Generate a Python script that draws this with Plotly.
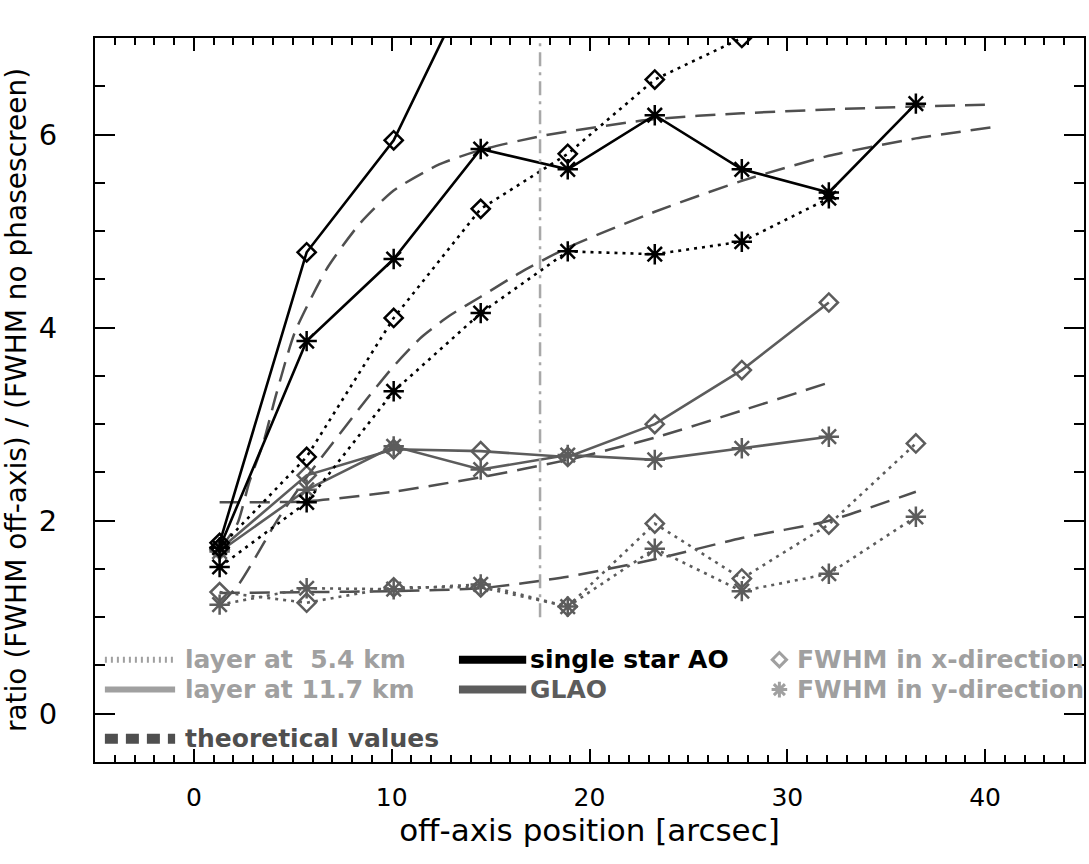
import plotly.graph_objects as go

# ---------------- data ----------------
pos = [1.3, 5.7, 10.1, 14.5, 18.9, 23.3, 27.7, 32.1, 36.5]

# single star AO, layer at 11.7 km (solid black)
ssao_117_x = [1.77, 4.78, 5.94, 7.8]
ssao_117_y = [1.72, 3.86, 4.71, 5.85, 5.64, 6.20, 5.64, 5.40, 6.32]
# single star AO, layer at 5.4 km (dotted black)
ssao_54_x = [1.72, 2.66, 4.10, 5.23, 5.80, 6.57, 7.00]
ssao_54_y = [1.52, 2.19, 3.34, 4.15, 4.79, 4.76, 4.89, 5.34]
# GLAO, layer at 11.7 km (solid gray)
glao_117_x = [1.70, 2.47, 2.74, 2.72, 2.66, 3.00, 3.56, 4.26]
glao_117_y = [1.68, 2.32, 2.77, 2.53, 2.68, 2.63, 2.75, 2.87]
# GLAO, layer at 5.4 km (dotted gray)
glao_54_x = [1.26, 1.15, 1.31, 1.31, 1.11, 1.97, 1.40, 1.96, 2.80]
glao_54_y = [1.13, 1.30, 1.29, 1.34, 1.11, 1.71, 1.27, 1.45, 2.04]

# theoretical values (dashed)
th_ssao_a_pos = [1.3, 2.2, 2.8, 3.5, 4.15, 5.1, 6.75, 8.4, 10.1, 12.4, 14.5, 17.7, 23.3, 27.7, 32.1, 36.5, 40.5]
th_ssao_a_val = [1.70, 1.97, 2.40, 2.80, 3.30, 3.95, 4.62, 5.08, 5.42, 5.69, 5.84, 5.99, 6.16, 6.22, 6.26, 6.29, 6.31]
th_ssao_b_pos = [1.3, 2.3, 3.2, 4.2, 5.7, 7.0, 8.7, 10.1, 11.5, 12.9, 14.5, 16.5, 18.9, 23.3, 27.7, 32.1, 36.5, 40.5]
th_ssao_b_val = [1.12, 1.35, 1.65, 2.00, 2.45, 2.80, 3.25, 3.60, 3.90, 4.12, 4.32, 4.57, 4.83, 5.20, 5.52, 5.78, 5.96, 6.08]
th_glao_117_pos = [1.3, 5.7, 10.1, 14.5, 18.9, 23.3, 27.7, 32.1]
th_glao_117_val = [2.19, 2.20, 2.30, 2.45, 2.63, 2.86, 3.14, 3.43]
th_glao_54_pos = [1.3, 5.7, 10.1, 14.5, 18.9, 23.3, 27.7, 32.1, 36.5]
th_glao_54_val = [1.25, 1.26, 1.27, 1.30, 1.42, 1.60, 1.82, 2.00, 2.30]

vline_pos = 17.5
vline_range = [1.0, 7.0]

x_ticks = [0, 10, 20, 30, 40]
y_ticks = [0, 2, 4, 6]

# ---------------- styles ----------------
BLACK = "#000000"
GRAY = "#5c5c5c"
THEO = "#4f4f4f"
LIGHT = "#a0a0a0"
FONT = "DejaVu Sans"

fig = go.Figure()

def theo(px, val):
    fig.add_trace(go.Scatter(x=px, y=val, mode="lines",
                             line=dict(color=THEO, width=2.5, dash="20px,10px", shape="spline", smoothing=0.6),
                             showlegend=False, hoverinfo="skip"))

theo(th_ssao_a_pos, th_ssao_a_val)
theo(th_ssao_b_pos, th_ssao_b_val)
theo(th_glao_117_pos, th_glao_117_val)
theo(th_glao_54_pos, th_glao_54_val)

def meas(vals, color, dash, symbol):
    px = pos[:len(vals)]
    if symbol == "diamond-open":
        mk = dict(symbol=symbol, size=14, color=color, line=dict(color=color, width=2.5))
    else:
        mk = dict(symbol=symbol, size=17, color=color, line=dict(color=color, width=2.5))
    fig.add_trace(go.Scatter(x=px, y=vals, mode="lines+markers",
                             line=dict(color=color, width=2.6, dash=dash),
                             marker=mk, showlegend=False))

DOT = "3px,5px"
meas(glao_54_x, GRAY, DOT, "diamond-open")
meas(glao_54_y, GRAY, DOT, "asterisk-open")
meas(glao_117_x, GRAY, "solid", "diamond-open")
meas(glao_117_y, GRAY, "solid", "asterisk-open")
meas(ssao_54_x, BLACK, DOT, "diamond-open")
meas(ssao_54_y, BLACK, DOT, "asterisk-open")
meas(ssao_117_x, BLACK, "solid", "diamond-open")
meas(ssao_117_y, BLACK, "solid", "asterisk-open")

# vertical dash-dot reference line
fig.add_shape(type="line", xref="x", yref="y", x0=vline_pos, x1=vline_pos,
              y0=vline_range[0], y1=vline_range[1],
              line=dict(color="#a8a8a8", width=2.5, dash="14px,6px,3px,6px"))

# ---------------- legend (drawn manually) ----------------
row1, row2, row3 = 0.56, 0.25, -0.26
LEGFONT = dict(family=FONT, size=25)

def leg_line(x0, x1, y, color, width, dash="solid"):
    fig.add_shape(type="line", xref="x", yref="y", x0=x0, x1=x1, y0=y, y1=y,
                  line=dict(color=color, width=width, dash=dash))

def leg_text(x, y, text, color):
    fig.add_annotation(x=x, y=y, xref="x", yref="y", text="<b>" + text + "</b>",
                       showarrow=False, xanchor="left", yanchor="middle",
                       font=dict(LEGFONT, color=color))

leg_line(-4.5, -0.95, row1, LIGHT, 6, "2px,4px")
leg_text(-0.55, row1, "layer at  5.4 km", LIGHT)
leg_line(-4.5, -0.95, row2, LIGHT, 6)
leg_text(-0.55, row2, "layer at 11.7 km", LIGHT)
leg_line(-4.5, -0.95, row3, THEO, 10, "13px,8px")
leg_text(-0.55, row3, "theoretical values", THEO)

leg_line(13.4, 16.8, row1, BLACK, 8)
leg_text(16.9, row1, "single star AO", BLACK)
leg_line(13.4, 16.8, row2, GRAY, 8)
leg_text(16.9, row2, "GLAO", GRAY)

fig.add_trace(go.Scatter(x=[29.6], y=[row1], mode="markers",
                         marker=dict(symbol="diamond-open", size=11, color=LIGHT,
                                     line=dict(color=LIGHT, width=3)),
                         showlegend=False, hoverinfo="skip", cliponaxis=False))
fig.add_trace(go.Scatter(x=[29.6], y=[row2], mode="markers",
                         marker=dict(symbol="asterisk-open", size=13, color=LIGHT,
                                     line=dict(color=LIGHT, width=3)),
                         showlegend=False, hoverinfo="skip", cliponaxis=False))
leg_text(30.4, row1, "FWHM in x-direction", LIGHT)
leg_text(30.4, row2, "FWHM in y-direction", LIGHT)

# ---------------- layout ----------------
fig.update_layout(
    width=1089, height=864,
    margin=dict(l=95, r=3, t=38, b=102),
    paper_bgcolor="white", plot_bgcolor="white",
    font=dict(family=FONT, color="black"),
    showlegend=False,
)
fig.update_xaxes(
    range=[-5, 45], tickvals=x_ticks, ticktext=[str(v) for v in x_ticks],
    ticks="inside", ticklen=13, tickwidth=2, tickcolor="black",
    minor=dict(dtick=1, tick0=0, ticks="inside", ticklen=7, tickwidth=1.5, tickcolor="black"),
    showline=True, linewidth=2, linecolor="black", mirror="ticks",
    showgrid=False, zeroline=False,
    tickfont=dict(family=FONT, size=25), ticklabelstandoff=12,
    title=dict(text="off-axis position [arcsec]", font=dict(family=FONT, size=31), standoff=6),
)
fig.update_yaxes(
    range=[-0.5, 7], tickvals=y_ticks, ticktext=[str(v) for v in y_ticks],
    ticks="inside", ticklen=20, tickwidth=2, tickcolor="black",
    minor=dict(dtick=0.5, tick0=0, ticks="inside", ticklen=10, tickwidth=1.5, tickcolor="black"),
    showline=True, linewidth=2, linecolor="black", mirror="ticks",
    showgrid=False, zeroline=False,
    tickfont=dict(family=FONT, size=29), ticklabelstandoff=30,
    title=dict(text="ratio (FWHM off-axis) / (FWHM no phasescreen)", font=dict(family=FONT, size=28), standoff=4),
)

fig.write_html("out.html")
